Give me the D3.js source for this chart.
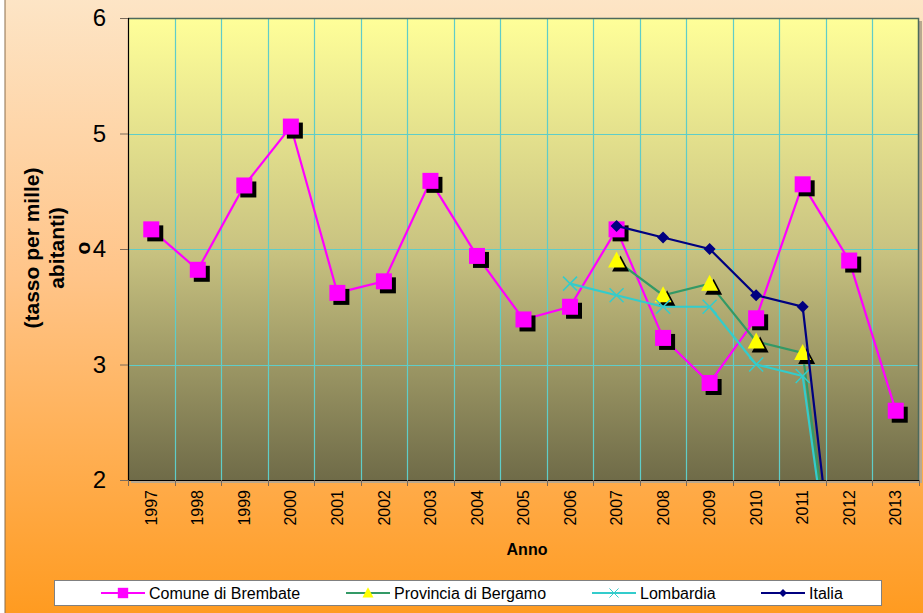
<!DOCTYPE html>
<html>
<head>
<meta charset="utf-8">
<script src="https://cdn.jsdelivr.net/npm/d3@7"></script>
<style>
	body { margin: 0; background: #fff; }
	svg text { font-family: Arial, "Liberation Sans", sans-serif; }
</style>
</head>
<body>
<div id="chart"></div>
<script>
// values
const years = ["1997", "1998", "1999", "2000", "2001", "2002", "2003", "2004", "2005",
	"2006", "2007", "2008", "2009", "2010", "2011", "2012", "2013"];
const comune = [4.17, 3.82, 4.55, 5.06, 3.62, 3.72, 4.59, 3.94, 3.39, 3.5, 4.17, 3.23, 2.84, 3.4, 4.56, 3.9, 2.6];
const provincia = [null, null, null, null, null, null, null, null, null, null, 3.9, 3.6, 3.7, 3.2, 3.1, 0, null];
const lombardia = [null, null, null, null, null, null, null, null, null, 3.7, 3.6, 3.5, 3.5, 3.0, 2.9, 0, null];
const italia = [null, null, null, null, null, null, null, null, null, null, 4.2, 4.1, 4.0, 3.6, 3.5, 0, null];
const yTicks = [2, 3, 4, 5, 6];
const seriesNames = ["Comune di Brembate", "Provincia di Bergamo", "Lombardia", "Italia"];

const width = 923, height = 613;
const plot = { left: 128, top: 18, right: 919, bottom: 480 };

const svg = d3.select('#chart').append('svg')
	.attr('width', width)
	.attr('height', height);

const defs = svg.append('defs');

function gradient(id, stops) {
	const g = defs.append('linearGradient')
		.attr('id', id)
		.attr('x1', 0).attr('y1', 0).attr('x2', 0).attr('y2', 1);
	stops.forEach(s => g.append('stop').attr('offset', s[0]).attr('stop-color', s[1]));
}
gradient('bg', [[0, '#fde5c6'], [0.45, '#ffc488'], [1, '#ff9a1e']]);
gradient('plotbg', [[0, '#ffff99'], [0.5, '#c9c381'], [1, '#6f6b48']]);

defs.append('clipPath').attr('id', 'clip')
	.append('rect')
	.attr('x', plot.left).attr('y', plot.top)
	.attr('width', plot.right - plot.left)
	.attr('height', plot.bottom - plot.top);

// chart area
svg.append('rect')
	.attr('x', 5).attr('y', -2)
	.attr('width', width + 10).attr('height', height + 10)
	.attr('fill', 'url(#bg)')
	.attr('stroke', '#8c6f4c');

const x = d3.scaleBand().domain(years).range([plot.left, plot.right]);
const y = d3.scaleLinear().domain([2, 6]).range([plot.bottom, plot.top]);

// plot area with shadow
svg.append('rect')
	.attr('x', plot.left + 3).attr('y', plot.top + 3)
	.attr('width', plot.right - plot.left).attr('height', plot.bottom - plot.top)
	.attr('fill', '#b8a890');
svg.append('rect')
	.attr('x', plot.left).attr('y', plot.top)
	.attr('width', plot.right - plot.left).attr('height', plot.bottom - plot.top)
	.attr('fill', 'url(#plotbg)');

// grid
const grid = svg.append('g').attr('stroke', '#5fcdc8').attr('stroke-width', 1.2);
grid.selectAll('.hg').data(yTicks.slice(1, -1)).enter().append('line')
	.attr('x1', plot.left).attr('x2', plot.right)
	.attr('y1', d => Math.round(y(d)) + 0.5).attr('y2', d => Math.round(y(d)) + 0.5);
grid.selectAll('.vg').data(years.slice(1)).enter().append('line')
	.attr('x1', d => Math.round(x(d)) + 0.5).attr('x2', d => Math.round(x(d)) + 0.5)
	.attr('y1', plot.top).attr('y2', plot.bottom);

// plot border (top / right)
svg.append('path')
	.attr('d', `M${plot.left},${plot.top + 0.5}H${plot.right - 0.5}V${plot.bottom}`)
	.attr('fill', 'none')
	.attr('stroke', '#4d6a5c')
	.attr('stroke-width', 1.5);

// axes
const yAxis = svg.append('g')
	.attr('transform', `translate(${plot.left},0)`)
	.call(d3.axisLeft(y).tickValues(yTicks).tickSize(8).tickPadding(14).tickFormat(d3.format('d')));
yAxis.select('.domain').attr('stroke', '#000').attr('stroke-width', 1.2);
yAxis.selectAll('.tick line').attr('stroke', '#7a6a5a');
yAxis.selectAll('.tick text').attr('font-size', 24).attr('fill', '#000')
	.attr('font-family', 'Arial, "Liberation Sans", sans-serif');

const xAxis = svg.append('g')
	.attr('transform', `translate(0,${plot.bottom})`)
	.call(d3.axisBottom(x).tickSize(0).tickFormat(d => d));
xAxis.select('.domain').attr('stroke', '#000').attr('stroke-width', 1.2);
xAxis.selectAll('.tick text')
	.attr('font-size', 16).attr('fill', '#000')
	.attr('font-family', 'Arial, "Liberation Sans", sans-serif')
	.attr('transform', 'rotate(-90)')
	.attr('text-anchor', 'end')
	.attr('x', -10).attr('y', 0).attr('dy', '0.35em');
// tick marks between categories
svg.append('g').selectAll('line').data(years.concat(['end'])).enter().append('line')
	.attr('x1', (d, i) => Math.round(plot.left + i * x.step()) + 0.5)
	.attr('x2', (d, i) => Math.round(plot.left + i * x.step()) + 0.5)
	.attr('y1', plot.bottom).attr('y2', plot.bottom + 6)
	.attr('stroke', '#7a6a5a');

// axis titles
const yTitle = ['(tasso per mille)', 'abitanti)', 'o'];
const yTitleX = [39, 64, 90];
svg.selectAll('.ytitle').data(yTitle).enter().append('text')
	.attr('transform', (d, i) => `translate(${yTitleX[i]},248) rotate(-90)`)
	.attr('text-anchor', 'middle')
	.attr('font-size', 21)
	.attr('font-weight', 'bold')
	.text(d => d);

svg.append('text')
	.attr('x', 527).attr('y', 555)
	.attr('text-anchor', 'middle')
	.attr('font-size', 16)
	.attr('font-weight', 'bold')
	.text('Anno');

// series
const series = [
	{ name: seriesNames[0], values: comune, color: '#ff00ff', marker: 'square', fill: '#ff00ff' },
	{ name: seriesNames[1], values: provincia, color: '#339966', marker: 'triangle', fill: '#ffff00' },
	{ name: seriesNames[2], values: lombardia, color: '#33cccc', marker: 'cross', fill: '#33cccc' },
	{ name: seriesNames[3], values: italia, color: '#000080', marker: 'diamond', fill: '#000080' }
];

function markerPath(type) {
	if (type === 'square') return 'M-8,-8H8V8H-8Z';
	if (type === 'triangle') return 'M0,-9L8.5,7H-8.5Z';
	if (type === 'diamond') return 'M0,-6L6,0L0,6L-6,0Z';
	return 'M-7,-7L7,7M7,-7L-7,7';
}

function drawMarker(g, s, px, py, shadow) {
	if (shadow && (s.marker === 'square' || s.marker === 'triangle')) {
		g.append('path')
			.attr('d', markerPath(s.marker))
			.attr('transform', `translate(${px + 4},${py + 4})`)
			.attr('fill', '#000');
	}
	const m = g.append('path')
		.attr('d', markerPath(s.marker))
		.attr('transform', `translate(${px},${py})`);
	if (s.marker === 'cross') {
		m.attr('fill', 'none').attr('stroke', s.color).attr('stroke-width', 1.5);
	} else {
		m.attr('fill', s.fill);
	}
}

const dataLayer = svg.append('g').attr('clip-path', 'url(#clip)');
const cx = d => x(d) + x.bandwidth() / 2;

series.forEach(s => {
	const pts = years.map((yr, i) => ({ yr: yr, v: s.values[i] })).filter(d => d.v !== null);
	const line = d3.line().x(d => cx(d.yr)).y(d => y(d.v));
	dataLayer.append('path')
		.datum(pts)
		.attr('d', line)
		.attr('fill', 'none')
		.attr('stroke', s.color)
		.attr('stroke-width', 2.2);
	const mg = dataLayer.append('g');
	pts.filter(d => d.v >= 2).forEach(d => drawMarker(mg, s, cx(d.yr), y(d.v), true));
});

// legend
const legendX = [101, 346, 592, 761];
svg.append('rect')
	.attr('x', 54.5).attr('y', 580.5)
	.attr('width', 827).attr('height', 25)
	.attr('fill', '#fff')
	.attr('stroke', '#808080');

series.forEach((s, i) => {
	const g = svg.append('g').attr('transform', `translate(${legendX[i]},593)`);
	g.append('line').attr('x1', 0).attr('x2', 44)
		.attr('stroke', s.color).attr('stroke-width', 2.2);
	const ms = { marker: s.marker, color: s.color, fill: s.fill };
	const mk = g.append('g').attr('transform', 'scale(0.65)');
	drawMarker(mk, ms, 22 / 0.65, 0, false);
	g.append('text')
		.attr('x', 48).attr('y', 0).attr('dy', '0.36em')
		.attr('font-size', 16)
		.text(s.name);
});
</script>
</body>
</html>
